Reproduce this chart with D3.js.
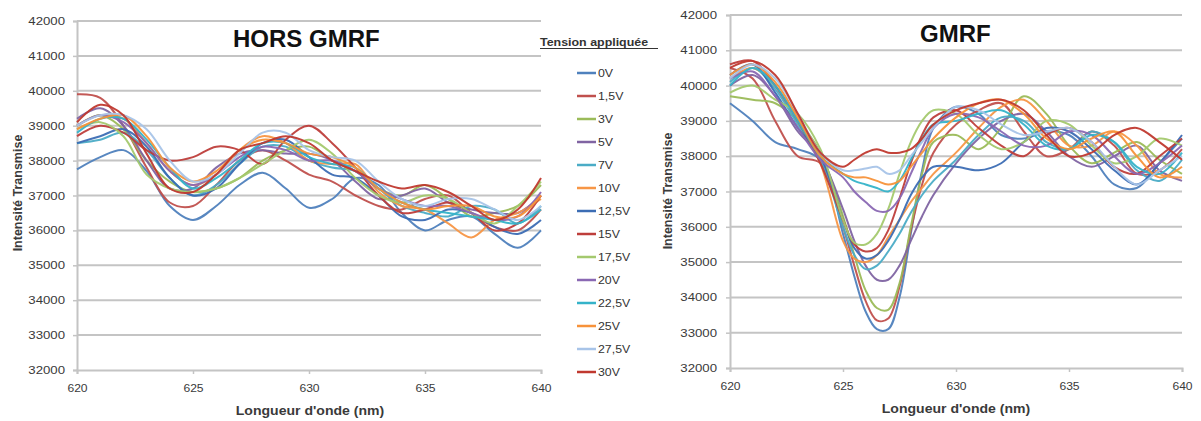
<!DOCTYPE html>
<html><head><meta charset="utf-8">
<script src="https://cdn.jsdelivr.net/npm/d3@7"></script>
<style>
body{margin:0;background:#fff}
svg{display:block}
text{font-family:"Liberation Sans",Arial,sans-serif}
</style>
</head><body>
<svg id="c" width="1201" height="421"></svg>
<script>
// ---------- DATA ----------
const seriesNames = ["0V","1,5V","3V","5V","7V","10V","12,5V","15V","17,5V","20V","22,5V","25V","27,5V","30V"];
const seriesColors = ["#4F81BD","#C0504D","#9BBB59","#8064A2","#4BACC6","#F79646","#3C6DB4","#BE3E3B","#A4C96E","#8A68B3","#35B3C9","#F7923A","#A8C4E8","#C0392F"];
const yTicks = [32000,33000,34000,35000,36000,37000,38000,39000,40000,41000,42000];
const xTicks = [620,625,630,635,640];

// HORS GMRF : wavelengths 620..640 step 1 nm
const wlHors = [620,621,622,623,624,625,626,627,628,629,630,631,632,633,634,635,636,637,638,639,640];
const hors_0V   = [37750,38100,38300,37700,36700,36300,36700,37300,37650,37200,36650,36900,37500,37300,36500,36000,36300,36400,35900,35500,36000];
const hors_1_5V = [39900,39800,39000,37800,36800,36700,37300,38000,38300,38000,37600,37400,37000,36700,36600,36900,37000,36500,36100,36000,36600];
const hors_3V   = [39000,39300,38900,38000,37400,37100,37200,37500,38000,38300,38400,38000,37700,37200,37000,37300,36900,36400,36500,36700,37300];
const hors_5V   = [39200,39500,39000,38000,37200,37200,37800,38200,38300,38200,38200,38000,37400,36900,37000,37200,36800,36600,36500,36500,37000];
const hors_7V   = [38500,38600,38800,38300,37500,37000,37300,37900,38400,38400,38000,37800,37700,37200,36700,36500,36400,36700,36600,36200,36700];
const hors_10V  = [39000,39300,39200,38500,37700,37300,37600,38300,38700,38500,38000,37900,37900,37100,36700,36600,36200,35800,36300,36500,36900];
const hors_12_5V= [38500,38700,38900,38400,37500,37000,37200,37900,38500,38600,38100,37600,37500,37000,36400,36300,36600,36500,36100,35900,36300];
const hors_15V  = [38700,39000,38800,38300,38000,38100,38400,38300,37900,38600,39000,38500,37800,37000,36500,36600,36800,36500,36000,36200,37000];
const hors_17_5V= [38900,39100,38700,37600,37200,37100,37200,37500,37900,38300,38600,38200,37500,37000,36800,37000,36900,36500,36200,36700,37400];
const hors_20V  = [39000,39300,39100,38500,37700,37300,37600,38100,38400,38300,38000,38000,37700,37200,36900,36700,36700,36500,36300,36400,37100];
const hors_22_5V= [38800,39200,39200,38600,37800,37200,37500,38000,38500,38500,38100,37900,37800,37200,36800,36600,36500,36400,36300,36200,36600];
const hors_25V  = [38900,39200,39300,38700,37800,37400,37700,38300,38600,38500,38200,38100,37800,37200,36800,36600,36700,36700,36400,36400,37000];
const hors_27_5V= [39000,39300,39300,38900,38000,37400,37600,38200,38800,38800,38300,38100,38000,37400,36900,36700,36900,36900,36600,36300,36700];
const hors_30V  = [39100,39600,39300,38200,37200,37100,37600,38300,38500,38700,38500,38000,37700,37400,37200,37300,37100,36700,36300,36600,37500];

// GMRF : wavelengths (finer around the resonance)
const wlGmrf = [620,621,622,623,624,625,625.5,626,626.5,627,627.5,628,628.5,629,630,631,632,633,634,635,636,637,638,639,640];
const gmrf_0V   = [39500,39000,38400,38200,37900,35800,34600,33600,33100,33100,34000,35800,37600,38800,39400,39200,38600,38500,38700,38600,38000,37200,37100,37800,38500];
const gmrf_1_5V = [40500,40200,39000,38000,37800,36000,34900,33900,33350,33400,34300,35900,37200,38100,38900,39300,39500,38700,38000,38200,38700,38300,37500,37600,38200];
const gmrf_3V   = [39700,39600,39500,39000,38100,36300,35200,34200,33700,33650,34400,36000,37500,38400,38600,38200,38800,39700,39200,38300,37800,38100,38400,37900,37500];
const gmrf_5V   = [40000,40300,39700,38700,38000,36500,35600,34900,34500,34500,34900,35600,36300,36900,37800,38500,39000,39200,38700,38000,37700,38000,38300,37600,37300];
const gmrf_7V   = [40100,40500,39900,38900,37900,36000,35200,34800,34900,35300,35800,36400,36900,37300,37900,38600,39100,39000,38400,38200,38700,38400,37600,37300,37900];
const gmrf_10V  = [40200,40500,40000,39000,37800,35600,35100,35000,35200,35700,36200,36700,37100,37500,38100,38800,39400,39600,39000,38300,38300,38700,38300,37500,37400];
const gmrf_12_5V= [40300,40600,39800,38800,38000,36200,35400,35100,35200,35600,36200,36900,37400,37700,37700,37600,37800,38400,38800,38700,38200,37600,37200,37800,38600];
const gmrf_15V  = [40600,40700,40000,39000,37800,36200,35500,35300,35400,35900,36800,37800,38600,39100,39300,38800,38300,38000,38600,38800,38400,37700,37500,38000,38500];
const gmrf_17_5V= [39800,40000,39600,39200,38200,36200,35550,35500,35800,36500,37500,38400,39000,39300,39200,38600,38200,38400,39000,38900,38300,37800,38000,38500,38300];
const gmrf_20V  = [40200,40400,39700,38800,37900,37400,37000,36700,36450,36450,36800,37500,38200,38800,39200,39100,38700,38300,38300,38700,38600,38000,37500,37800,38300];
const gmrf_22_5V= [40000,40500,40000,39000,38000,37500,37300,37200,37100,37000,37300,37900,38500,38900,39000,39200,39300,38900,38300,38200,38600,38400,37700,37500,38100];
const gmrf_25V  = [40300,40600,40100,39100,38000,37500,37400,37400,37300,37200,37300,37700,38100,38500,39100,39500,39600,39200,38500,38200,38500,38700,38000,37400,37700];
const gmrf_27_5V= [40200,40600,40200,39200,38100,37600,37600,37650,37700,37500,37600,38000,38400,38800,39400,39300,38900,38600,38700,38800,38400,37700,37200,37600,38000];
const gmrf_30V  = [40500,40700,40300,39200,38100,37700,37900,38100,38200,38100,38100,38200,38500,38900,39300,39500,39600,39300,38600,38000,38100,38600,38800,38400,37900];

const horsSeries = [hors_0V,hors_1_5V,hors_3V,hors_5V,hors_7V,hors_10V,hors_12_5V,hors_15V,hors_17_5V,hors_20V,hors_22_5V,hors_25V,hors_27_5V,hors_30V];
const gmrfSeries = [gmrf_0V,gmrf_1_5V,gmrf_3V,gmrf_5V,gmrf_7V,gmrf_10V,gmrf_12_5V,gmrf_15V,gmrf_17_5V,gmrf_20V,gmrf_22_5V,gmrf_25V,gmrf_27_5V,gmrf_30V];

// ---------- DRAW ----------
const svg = d3.select("#c");
const gridCol = "#c4c4c4", textCol = "#3a3a3a";

function stretch(sel, f){
  sel.each(function(){
    const w = this.getComputedTextLength();
    d3.select(this).attr("textLength", w*f).attr("lengthAdjust","spacingAndGlyphs");
  });
}

function panel(cfg){
  const x = d3.scaleLinear().domain([620,640]).range([cfg.x0,cfg.x1]);
  const y = d3.scaleLinear().domain([32000,42000]).range([cfg.y0,cfg.y1]);
  const g = svg.append("g");

  g.selectAll(".grid").data(yTicks.slice(1)).enter().append("line")
    .attr("x1",cfg.x0).attr("x2",cfg.x1)
    .attr("y1",d=>y(d)).attr("y2",d=>y(d))
    .attr("stroke",gridCol).attr("stroke-width",2);

  const ya = g.append("g").attr("transform",`translate(${cfg.x0},0)`)
    .call(d3.axisLeft(y).tickValues(yTicks).tickSize(4).tickPadding(cfg.x0-cfg.yLabX-4).tickFormat(d3.format("d")));
  const xa = g.append("g").attr("transform",`translate(0,${cfg.y0})`)
    .call(d3.axisBottom(x).tickValues(xTicks).tickSize(4).tickPadding(10).tickFormat(d3.format("d")));
  [ya,xa].forEach(a=>{
    a.select(".domain").attr("stroke",gridCol).attr("stroke-width",2);
    a.selectAll(".tick line").attr("stroke",gridCol).attr("stroke-width",1.5);
    a.selectAll("text").attr("fill",textCol).style("font-size","11px");
  });
  stretch(ya.selectAll("text"),1.2);
  stretch(xa.selectAll("text"),1.1);

  const line = d3.line().x((d,i)=>x(cfg.wl[i])).y(d=>y(d)).curve(d3.curveCatmullRom.alpha(0.5));
  g.selectAll(".s").data(cfg.series).enter().append("path")
    .attr("d",line).attr("fill","none")
    .attr("stroke",(d,i)=>seriesColors[i]).attr("stroke-width",2)
    .attr("stroke-linejoin","round").attr("stroke-opacity",0.95);

  g.append("text").attr("x",cfg.tx).attr("y",cfg.ty).text(cfg.title)
    .style("font-size","24px").style("font-weight","bold").attr("fill","#111");
  g.append("text").attr("x",cfg.xtX).attr("y",cfg.xtY).attr("text-anchor","middle")
    .text("Longueur d'onde (nm)").style("font-size","13px").style("font-weight","bold").attr("fill",textCol)
    .call(s=>stretch(s,1.08));
  g.append("text").attr("transform",`translate(${cfg.ytX},${cfg.ytY}) rotate(-90)`).attr("text-anchor","middle")
    .text("Intensité Transmise").style("font-size","12.5px").style("font-weight","bold").attr("fill",textCol);
}

panel({x0:77,x1:541,y0:370,y1:21,yLabX:65,wl:wlHors,series:horsSeries,
  title:"HORS GMRF",tx:233,ty:47,xtX:310,xtY:415,ytX:22,ytY:193});
panel({x0:730,x1:1182,y0:368,y1:15,yLabX:717,wl:wlGmrf,series:gmrfSeries,
  title:"GMRF",tx:920,ty:42,xtX:956,xtY:413,ytX:672,ytY:191});

const lg = svg.append("g");
lg.append("text").attr("x",540).attr("y",46).text("Tension appliquée")
  .style("font-size","11.5px").style("font-weight","bold").attr("fill","#333")
  .call(s=>stretch(s,1.08));
lg.append("line").attr("x1",540).attr("x2",658).attr("y1",48.5).attr("y2",48.5).attr("stroke","#333").attr("stroke-width",1);
const items = lg.selectAll(".li").data(seriesNames).enter().append("g")
  .attr("transform",(d,i)=>`translate(0,${73+i*23})`);
items.append("line").attr("x1",577).attr("x2",596).attr("stroke",(d,i)=>seriesColors[i]).attr("stroke-width",2.5);
items.append("text").attr("x",598).attr("y",4).text(d=>d).style("font-size","11px").attr("fill","#333")
  .call(s=>stretch(s,1.12));
</script>
</body></html>
